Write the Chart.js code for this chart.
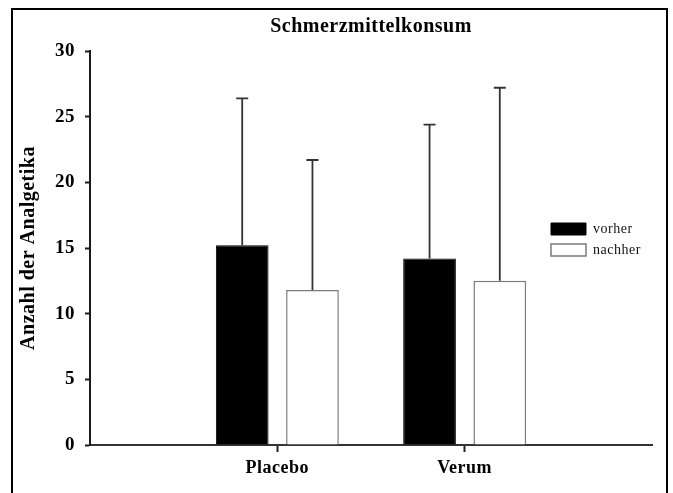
<!DOCTYPE html>
<html>
<head>
<meta charset="utf-8">
<title>Schmerzmittelkonsum</title>
<script src="https://cdn.jsdelivr.net/npm/chart.js@4.4.0/dist/chart.umd.min.js"></script>
<style>
  html, body { margin: 0; padding: 0; background: #fff; overflow: hidden; }
  #wrap { position: relative; width: 673px; height: 493px; }
  #chart { position: absolute; left: 0; top: 0; }
  /* outer frame, open at the bottom edge */
  #frame { position: absolute; left: 11px; top: 8px; width: 657px; height: 510px;
           border: 2px solid #000; box-sizing: border-box; pointer-events: none; }
</style>
</head>
<body>
<div id="wrap">
  <canvas id="chart" width="673" height="493"></canvas>
  <div id="frame"></div>
</div>
<script>
const groups = ["Placebo", "Verum"];
const vorher = [15.2, 14.2];
const nachher = [11.8, 12.5];
const vorherSD = [11.2, 10.2];
const nachherSD = [9.9, 14.7];
const yTicks = [0, 5, 10, 15, 20, 25, 30];

const serif = "'Liberation Serif', 'Times New Roman', serif";

// empty slots left and right so the groups sit at 1/3 and 2/3 of the axis
const pad = arr => [null, ...arr, null];
const labels = ["", ...groups, ""];

// upward-only error bars with a short cap
const errorBars = {
    id: "errorBars",
    afterDatasetsDraw(chart) {
        const ctx = chart.ctx;
        const y = chart.scales.y;
        ctx.save();
        ctx.strokeStyle = "#333";
        ctx.lineWidth = 1.8;
        chart.data.datasets.forEach((ds, i) => {
            chart.getDatasetMeta(i).data.forEach((bar, j) => {
                const v = ds.data[j], sd = ds.sd[j];
                if (v == null || sd == null) return;
                const top = y.getPixelForValue(v + sd);
                ctx.beginPath();
                ctx.moveTo(bar.x, bar.y);
                ctx.lineTo(bar.x, top);
                ctx.moveTo(bar.x - 6, top);
                ctx.lineTo(bar.x + 6, top);
                ctx.stroke();
            });
        });
        ctx.restore();
    }
};

// put the legend to the right of the Verum group
const legendSpot = {
    id: "legendSpot",
    beforeDraw(chart) {
        const lg = chart.legend;
        const w = lg.width, h = lg.height;
        lg.left = 544;
        lg.top = 215;
        lg.right = lg.left + w;
        lg.bottom = lg.top + h;
        chart.ctx.letterSpacing = "0.5px";
    }
};

new Chart(document.getElementById("chart"), {
    type: "bar",
    data: {
        labels: labels,
        datasets: [{
            label: "vorher",
            data: pad(vorher),
            sd: pad(vorherSD),
            backgroundColor: "#000",
            borderColor: "#000",
            borderWidth: 1,
            categoryPercentage: 0.75,
            barPercentage: 0.75
        }, {
            label: "nachher",
            data: pad(nachher),
            sd: pad(nachherSD),
            backgroundColor: "#fff",
            borderColor: "#7a7a7a",
            borderWidth: 1.5,
            categoryPercentage: 0.75,
            barPercentage: 0.75
        }]
    },
    options: {
        responsive: false,
        animation: false,
        events: [],
        layout: { padding: { left: 0, right: 21, top: 0, bottom: 0 } },
        plugins: {
            title: {
                display: true,
                text: "Schmerzmittelkonsum",
                fullSize: false,
                color: "#000",
                font: { family: serif, size: 20, weight: "bold", lineHeight: 1.2 },
                padding: { top: 15, bottom: 12 }
            },
            legend: {
                position: "chartArea",
                align: "start",
                labels: {
                    boxWidth: 35,
                    boxHeight: 12,
                    padding: 7,
                    color: "#111",
                    font: { family: serif, size: 14 }
                }
            },
            tooltip: { enabled: false }
        },
        scales: {
            x: {
                offset: false,
                afterFit: s => { s.height = 48; },
                border: { display: true, color: "#333", width: 2 },
                grid: {
                    offset: false,
                    drawOnChartArea: false,
                    tickLength: 7,
                    tickWidth: 2,
                    tickColor: c => (c.index > 0 && c.index < labels.length - 1 ? "#222" : "rgba(0,0,0,0)")
                },
                ticks: {
                    color: "#000",
                    padding: 6,
                    maxRotation: 0,
                    autoSkip: false,
                    font: { family: serif, size: 18, weight: "bold" }
                }
            },
            y: {
                min: 0,
                max: 30,
                afterBuildTicks: s => { s.ticks = yTicks.map(v => ({ value: v })); },
                afterFit: s => { s.width = 90; },
                border: { display: true, color: "#1a1a1a", width: 2 },
                grid: {
                    drawOnChartArea: false,
                    tickLength: 5,
                    tickWidth: 2,
                    tickColor: "#1a1a1a"
                },
                ticks: {
                    color: "#000",
                    padding: 10,
                    font: { family: serif, size: 19, weight: "bold" }
                },
                title: {
                    display: true,
                    text: "Anzahl der Analgetika",
                    color: "#000",
                    font: { family: serif, size: 20, weight: "bold", lineHeight: 1.2 },
                    padding: { top: 17, bottom: 0 }
                }
            }
        }
    },
    plugins: [errorBars, legendSpot]
});
</script>
</body>
</html>
